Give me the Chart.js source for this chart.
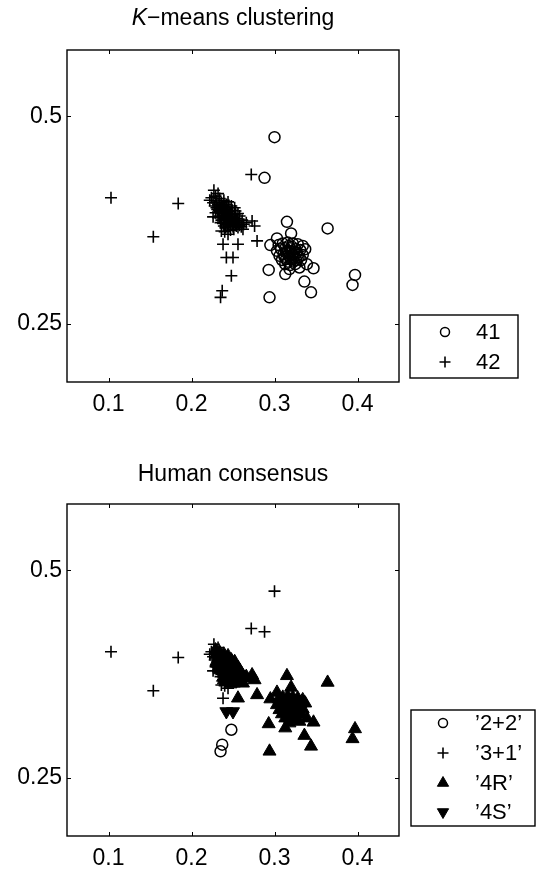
<!DOCTYPE html>
<html>
<head>
<meta charset="utf-8">
<script src="https://cdn.jsdelivr.net/npm/chart.js@4.4.1/dist/chart.umd.min.js"></script>
<style>
  html, body { margin: 0; padding: 0; background: #fff; overflow: hidden; }
  canvas { position: absolute; left: 0; }
  #kmeans { top: 0; }
  #human { top: 454px; }
</style>
</head>
<body>
<canvas id="kmeans" width="538" height="454"></canvas>
<canvas id="human" width="538" height="417"></canvas>
<script>
// samples: the same points appear in both panels, only the grouping differs
const xVals = [
  // outliers of cluster 42
  0.103, 0.184, 0.154, 0.272, 0.273, 0.276, 0.279, 0.256, 0.238, 0.242, 0.250, 0.248, 0.237, 0.235,
  // outliers of cluster 41
  0.300, 0.288, 0.315, 0.320, 0.364, 0.303, 0.295, 0.293, 0.313, 0.339, 0.347, 0.336, 0.344, 0.294, 0.397, 0.394,
  // core of cluster 41
  0.305, 0.310, 0.316, 0.322, 0.328, 0.334, 0.303, 0.308, 0.313, 0.319, 0.325, 0.331, 0.337,
  0.306, 0.311, 0.317, 0.322, 0.328, 0.334, 0.309, 0.314, 0.320, 0.326, 0.332, 0.313, 0.319, 0.325, 0.318, 0.330,
  0.316, 0.320, 0.324, 0.318, 0.323, 0.327, 0.314, 0.321, 0.317, 0.312, 0.329, 0.316, 0.323,
  // core of cluster 42
  0.227, 0.224, 0.222, 0.229, 0.232, 0.226, 0.230, 0.234, 0.228, 0.232, 0.236, 0.239, 0.231, 0.235, 0.238, 0.242,
  0.229, 0.233, 0.237, 0.241, 0.245, 0.234, 0.238, 0.242, 0.246, 0.249, 0.236, 0.240, 0.244, 0.248, 0.252,
  0.238, 0.242, 0.246, 0.250, 0.254, 0.241, 0.245, 0.249, 0.253, 0.257, 0.247, 0.251, 0.256, 0.260, 0.263,
  0.236, 0.244, 0.226, 0.252, 0.258,
  0.230, 0.234, 0.237, 0.240, 0.233, 0.236, 0.240, 0.243, 0.239, 0.243, 0.247, 0.241, 0.245, 0.249, 0.243, 0.247,
  0.251, 0.255, 0.239, 0.250, 0.254, 0.258, 0.232, 0.235, 0.244, 0.248, 0.253, 0.256, 0.261, 0.266, 0.262, 0.240
];
const yVals = [
  0.402, 0.395, 0.355, 0.430, 0.374, 0.368, 0.350, 0.346, 0.346, 0.330, 0.330, 0.308, 0.290, 0.282,
  0.475, 0.426, 0.373, 0.359, 0.365, 0.353, 0.345, 0.315, 0.310, 0.322, 0.317, 0.301, 0.288, 0.282, 0.309, 0.297,
  0.345, 0.347, 0.348, 0.347, 0.346, 0.344, 0.338, 0.340, 0.341, 0.341, 0.340, 0.339, 0.340,
  0.332, 0.334, 0.335, 0.334, 0.333, 0.333, 0.327, 0.328, 0.328, 0.327, 0.327, 0.322, 0.321, 0.322, 0.316, 0.318,
  0.338, 0.337, 0.337, 0.331, 0.330, 0.336, 0.336, 0.343, 0.344, 0.331, 0.330, 0.325, 0.325,
  0.411, 0.402, 0.399, 0.404, 0.407, 0.396, 0.398, 0.401, 0.392, 0.394, 0.396, 0.399, 0.388, 0.390, 0.392, 0.394,
  0.384, 0.384, 0.386, 0.388, 0.390, 0.380, 0.381, 0.383, 0.385, 0.387, 0.375, 0.377, 0.378, 0.380, 0.382,
  0.371, 0.372, 0.373, 0.375, 0.377, 0.366, 0.368, 0.369, 0.370, 0.372, 0.363, 0.364, 0.366, 0.367, 0.370,
  0.362, 0.358, 0.379, 0.390, 0.380,
  0.390, 0.392, 0.389, 0.391, 0.387, 0.383, 0.385, 0.387, 0.379, 0.381, 0.383, 0.375, 0.376, 0.378, 0.370, 0.371,
  0.373, 0.374, 0.368, 0.367, 0.368, 0.369, 0.378, 0.372, 0.397, 0.392, 0.386, 0.383, 0.375, 0.372, 0.364, 0.361
];
const kmeansGroup = [
  42, 42, 42, 42, 42, 42, 42, 42, 42, 42, 42, 42, 42, 42,
  41, 41, 41, 41, 41, 41, 41, 41, 41, 41, 41, 41, 41, 41, 41, 41,
  41, 41, 41, 41, 41, 41, 41, 41, 41, 41, 41, 41, 41,
  41, 41, 41, 41, 41, 41, 41, 41, 41, 41, 41, 41, 41, 41, 41, 41,
  41, 41, 41, 41, 41, 41, 41, 41, 41, 41, 41, 41, 41,
  42, 42, 42, 42, 42, 42, 42, 42, 42, 42, 42, 42, 42, 42, 42, 42,
  42, 42, 42, 42, 42, 42, 42, 42, 42, 42, 42, 42, 42, 42, 42,
  42, 42, 42, 42, 42, 42, 42, 42, 42, 42, 42, 42, 42, 42, 42,
  42, 42, 42, 42, 42,
  42, 42, 42, 42, 42, 42, 42, 42, 42, 42, 42, 42, 42, 42, 42, 42,
  42, 42, 42, 42, 42, 42, 42, 42, 42, 42, 42, 42, 42, 42, 42, 42
];
const consensusGroup = [
  '3+1', '3+1', '3+1', '3+1', '4R', '4R', '4R', '4R', '3+1', '4S', '4S', '2+2', '2+2', '2+2',
  '3+1', '3+1', '4R', '4R', '4R', '4R', '4R', '4R', '4R', '4R', '4R', '4R', '4R', '4R', '4R', '4R',
  '4R', '4R', '4R', '4R', '4R', '4R', '4R', '4R', '4R', '4R', '4R', '4R', '4R',
  '4R', '4R', '4R', '4R', '4R', '4R', '4R', '4R', '4R', '4R', '4R', '4R', '4R', '4R', '4R', '4R',
  '4R', '4R', '4R', '4R', '4R', '4R', '4R', '4R', '4R', '4R', '4R', '4R', '4R',
  '3+1', '3+1', '3+1', '4R', '3+1', '3+1', '4R', '4R', '3+1', '4R', '4R', '4R', '4R', '4R', '4R', '4R',
  '3+1', '4R', '4R', '4R', '4R', '4R', '4R', '4R', '4R', '4R', '3+1', '4R', '4R', '4R', '4R',
  '4R', '4R', '4R', '4R', '4R', '4R', '4R', '4R', '4R', '4R', '4R', '4R', '4R', '4R', '4R',
  '3+1', '3+1', '3+1', '4R', '4R',
  '4R', '4R', '4R', '4R', '4R', '4R', '4R', '4R', '4R', '4R', '4R', '4R', '4R', '4R', '4R', '4R',
  '4R', '4R', '4R', '4R', '4R', '4R', '3+1', '3+1', '4R', '4R', '4R', '4R', '4R', '4R', '4R', '3+1'
];

const kmeansNames = [41, 42];
const consensusNames = ['2+2', '3+1', '4R', '4S'];
const xTicks = [0.1, 0.2, 0.3, 0.4];
const yTicks = [0.25, 0.5];

const FONT = "'Liberation Sans', Arial, Helvetica, sans-serif";

const markers = {
  circle: { pointStyle: 'circle', pointRadius: 5.5, pointBorderWidth: 1.5, pointBackgroundColor: 'rgba(0,0,0,0)' },
  plus:   { pointStyle: 'cross', pointRadius: 6, pointBorderWidth: 1.6, pointBackgroundColor: 'rgba(0,0,0,0)' },
  up:     { pointStyle: 'triangle', pointRadius: 7.5, pointBorderWidth: 1, pointBackgroundColor: '#000' },
  down:   { pointStyle: 'triangle', pointRotation: 180, pointRadius: 7.5, pointBorderWidth: 1, pointBackgroundColor: '#000' }
};

function pointsOf(groups, name) {
  const pts = [];
  xVals.forEach((x, i) => {
    if (groups[i] === name) pts.push({ x: x, y: yVals[i] });
  });
  return pts;
}

function scaleConfig(canvasHeight) {
  const tickFont = { family: FONT, size: 23 };
  return {
    x: {
      type: 'linear', min: 0.05, max: 0.45,
      afterBuildTicks: s => { s.ticks = xTicks.map(v => ({ value: v })); },
      afterFit: s => { s.height = canvasHeight - 382; },
      grid: { display: false, drawTicks: false },
      border: { display: false },
      ticks: { padding: 9, color: '#000', font: tickFont, maxRotation: 0, callback: v => String(v) }
    },
    y: {
      type: 'linear', min: 0.18, max: 0.58,
      afterBuildTicks: s => { s.ticks = yTicks.map(v => ({ value: v })); },
      afterFit: s => { s.width = 67; },
      grid: { display: false, drawTicks: false },
      border: { display: false },
      ticks: { padding: 5, color: '#000', font: tickFont, callback: v => String(v) }
    }
  };
}

// box around the axes, inward tick marks, title over the axes and the framed legend
const framePlugin = {
  id: 'frame',
  afterDraw(chart, args, opts) {
    const { ctx, chartArea: a, scales } = chart;
    ctx.save();
    ctx.strokeStyle = '#000';
    ctx.lineWidth = 1.4;
    ctx.strokeRect(a.left, a.top, a.right - a.left, a.bottom - a.top);

    ctx.lineWidth = 1;
    ctx.beginPath();
    scales.x.ticks.forEach(t => {
      const px = Math.round(scales.x.getPixelForValue(t.value)) + 0.5;
      ctx.moveTo(px, a.bottom); ctx.lineTo(px, a.bottom - 4);
      ctx.moveTo(px, a.top); ctx.lineTo(px, a.top + 4);
    });
    scales.y.ticks.forEach(t => {
      const py = Math.round(scales.y.getPixelForValue(t.value)) + 0.5;
      ctx.moveTo(a.left, py); ctx.lineTo(a.left + 4, py);
      ctx.moveTo(a.right, py); ctx.lineTo(a.right - 4, py);
    });
    ctx.stroke();

    // title, centred on the axes box; the first part may be italic
    ctx.fillStyle = '#000';
    ctx.textBaseline = 'middle';
    const parts = opts.title;
    let total = 0;
    parts.forEach(p => {
      ctx.font = (p.italic ? 'italic ' : '') + opts.titleSize + 'px ' + FONT;
      p.w = ctx.measureText(p.text).width;
      total += p.w;
    });
    let tx = (a.left + a.right) / 2 - total / 2;
    parts.forEach(p => {
      ctx.font = (p.italic ? 'italic ' : '') + opts.titleSize + 'px ' + FONT;
      ctx.textAlign = 'left';
      ctx.fillText(p.text, tx, opts.titleY);
      tx += p.w;
    });

    // legend
    const lg = opts.legend;
    ctx.lineWidth = 1.4;
    ctx.strokeRect(lg.left, lg.top, lg.width, lg.height);
    ctx.font = lg.size + 'px ' + FONT;
    ctx.textAlign = 'left';
    chart.data.datasets.forEach((ds, i) => {
      const y = lg.rowY[i];
      ctx.fillStyle = ds.pointBackgroundColor;
      ctx.strokeStyle = '#000';
      ctx.lineWidth = ds.pointBorderWidth;
      Chart.helpers.drawPoint(ctx, {
        pointStyle: ds.pointStyle,
        radius: lg.markerRadius[ds.pointStyle],
        rotation: ds.pointRotation || 0,
        borderWidth: ds.pointBorderWidth
      }, lg.markerX, y);
      ctx.fillStyle = '#000';
      ctx.fillText(ds.label, lg.textX, y + 1);
    });
    ctx.restore();
  }
};

function baseOptions(canvasHeight, frameOpts) {
  return {
    responsive: false,
    animation: false,
    devicePixelRatio: 1,
    layout: { padding: { top: 50, right: 139, left: 0, bottom: 0 } },
    scales: scaleConfig(canvasHeight),
    plugins: {
      legend: { display: false },
      tooltip: { enabled: false },
      frame: frameOpts
    }
  };
}

function dataset(label, pts, style, order) {
  return Object.assign({ label: label, data: pts, borderColor: '#000', pointBorderColor: '#000', showLine: false, order: order }, style);
}

// K-means panel
new Chart(document.getElementById('kmeans'), {
  type: 'scatter',
  data: {
    datasets: [
      dataset(String(kmeansNames[0]), pointsOf(kmeansGroup, kmeansNames[0]), markers.circle, 1),
      dataset(String(kmeansNames[1]), pointsOf(kmeansGroup, kmeansNames[1]), markers.plus, 0)
    ]
  },
  options: baseOptions(454, {
    title: [{ text: 'K', italic: true }, { text: '\u2212means clustering' }],
    titleSize: 23,
    titleY: 19,
    legend: {
      left: 410, top: 315, width: 108, height: 63,
      rowY: [332, 362], markerX: 445, textX: 476, size: 22,
      markerRadius: { circle: 4.5, cross: 5.5, triangle: 6.5 }
    }
  }),
  plugins: [framePlugin]
});

// human consensus panel
const quoted = s => '\u2019' + s + '\u2019';
new Chart(document.getElementById('human'), {
  type: 'scatter',
  data: {
    datasets: [
      dataset(quoted(consensusNames[0]), pointsOf(consensusGroup, consensusNames[0]), markers.circle, 3),
      dataset(quoted(consensusNames[1]), pointsOf(consensusGroup, consensusNames[1]), markers.plus, 2),
      dataset(quoted(consensusNames[2]), pointsOf(consensusGroup, consensusNames[2]), markers.up, 1),
      dataset(quoted(consensusNames[3]), pointsOf(consensusGroup, consensusNames[3]), markers.down, 0)
    ]
  },
  options: baseOptions(417, {
    title: [{ text: 'Human consensus' }],
    titleSize: 23,
    titleY: 21,
    legend: {
      left: 411, top: 256, width: 124, height: 116,
      rowY: [269, 299, 329, 358], markerX: 443, textX: 475, size: 22,
      markerRadius: { circle: 4.5, cross: 5.5, triangle: 6.5 }
    }
  }),
  plugins: [framePlugin]
});
</script>
</body>
</html>
